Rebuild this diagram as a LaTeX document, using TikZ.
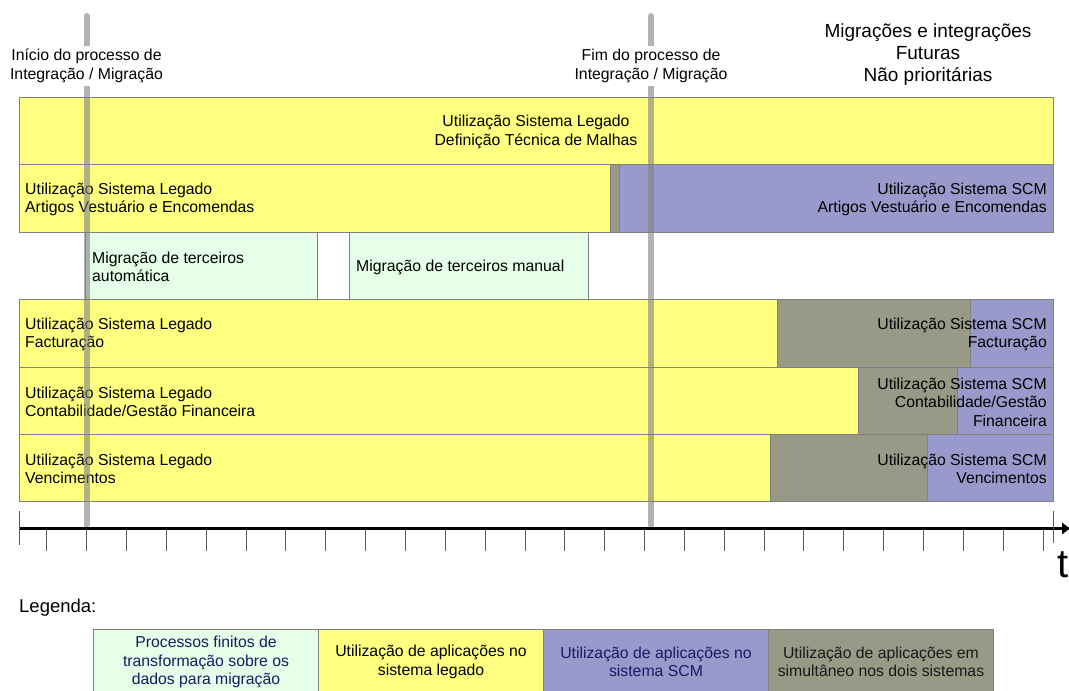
\documentclass[tikz,border=0pt]{standalone}
\usepackage{fontspec}
\setmainfont{Liberation Sans}
\usetikzlibrary{arrows.meta}
\definecolor{legacy}{HTML}{FFFF80}
\definecolor{scm}{HTML}{9999CC}
\definecolor{both}{HTML}{999988}
\definecolor{mig}{HTML}{E5FFE8}
\definecolor{bord}{HTML}{808080}
\definecolor{navytxt}{HTML}{1A1A66}
\begin{document}
\begin{tikzpicture}[x=1pt,y=-1pt,
  box/.style={draw=bord,line width=0.8pt},
  txt/.style={inner sep=0pt,font=\fontsize{15.8}{18.6}\selectfont},
  ltxt/.style={txt,anchor=west,align=left},
  rtxt/.style={txt,anchor=east,align=right},
  ctxt/.style={txt,align=center},
  marker/.style={line width=6pt,draw=gray,draw opacity=0.6,line cap=round},
  toplabel/.style={txt,align=center,fill=white,inner xsep=1pt,inner ysep=3pt},
  tickmark/.style={draw=black!65,line width=1pt},
  axisline/.style={line width=3pt,-{Latex[length=9pt,width=13pt]}},
  legbox/.style={draw=bord,line width=0.8pt,minimum width=225pt,minimum height=66pt,inner sep=0pt,align=center,font=\fontsize{15.8}{18.6}\selectfont},
  ]
\useasboundingbox (0,0) rectangle (1069,691);
\clip (0,0) rectangle (1069,691);

% row 1
\path[box,fill=legacy] (19,97.5) rectangle (1053,164.5);
% row 2
\path[box,fill=legacy] (19,164.5) rectangle (610,232);
\path[box,fill=both] (610,164.5) rectangle (619,232);
\path[box,fill=scm] (619,164.5) rectangle (1053,232);
% row 3
\path[box,fill=mig] (85.5,232) rectangle (317,299.5);
\path[box,fill=mig] (349,232) rectangle (588.5,299.5);
% row 4
\path[box,fill=legacy] (19,299.5) rectangle (777,367);
\path[box,fill=both] (777,299.5) rectangle (970.5,367);
\path[box,fill=scm] (970.5,299.5) rectangle (1053,367);
% row 5
\path[box,fill=legacy] (19,367) rectangle (858,434.5);
\path[box,fill=both] (858,367) rectangle (957.5,434.5);
\path[box,fill=scm] (957.5,367) rectangle (1053,434.5);
% row 6
\path[box,fill=legacy] (19,434.5) rectangle (770,501.5);
\path[box,fill=both] (770,434.5) rectangle (927.5,501.5);
\path[box,fill=scm] (927.5,434.5) rectangle (1053,501.5);

% texts
\node[ctxt] (r1) at (536,132) {Utilização Sistema Legado\\Definição Técnica de Malhas};
\node[ltxt] (r2l) at (25,199.5) {Utilização Sistema Legado\\Artigos Vestuário e Encomendas};
\node[rtxt] (r2r) at (1047,199.5) {Utilização Sistema SCM\\Artigos Vestuário e Encomendas};
\node[ltxt] (r3a) at (92,267) {Migração de terceiros\\automática};
\node[ltxt] (r3b) at (356,267) {Migração de terceiros manual};
\node[ltxt] (r4l) at (25,334.5) {Utilização Sistema Legado\\Facturação};
\node[rtxt] (r4r) at (1047,334.5) {Utilização Sistema SCM\\Facturação};
\node[ltxt] (r5l) at (25,402) {Utilização Sistema Legado\\Contabilidade/Gestão Financeira};
\node[rtxt] (r5r) at (1047,402) {Utilização Sistema SCM\\Contabilidade/Gestão\\Financeira};
\node[ltxt] (r6l) at (25,469) {Utilização Sistema Legado\\Vencimentos};
\node[rtxt] (r6r) at (1047,469) {Utilização Sistema SCM\\Vencimentos};

% milestone markers
\coordinate (m1top) at (86.5,16);
\coordinate (m1bot) at (86.5,525);
\coordinate (m2top) at (651,16);
\coordinate (m2bot) at (651,525);
\draw[marker] (m1top) -- (m1bot);
\draw[marker] (m2top) -- (m2bot);
\node[toplabel] (start) at (86.5,66) {Início do processo de\\Integração / Migração};
\node[toplabel] (end) at (651,66) {Fim do processo de\\Integração / Migração};
\node[txt,align=center,font=\fontsize{19}{22}\selectfont] (future) at (928,55) {Migrações e integrações\\Futuras\\Não prioritárias};

% time axis
\coordinate (ax0) at (19,528.5);
\coordinate (ax1) at (1071,528.5);
\draw[axisline] (ax0) -- (ax1);
\foreach \k in {0,...,25} \draw[tickmark] (46.8+39.85*\k,529) -- ++(0,22);
\draw[tickmark] (19,511) -- (19,545);
\draw[tickmark] (1053,511) -- (1053,543);
\node[anchor=base west,inner sep=0pt,font=\fontsize{40}{40}\selectfont] (tlab) at (1057,577) {t};

% legend
\node[anchor=base west,inner sep=0pt,font=\fontsize{18.5}{22}\selectfont] (legtitle) at (19,612) {Legenda:};
\node[legbox,fill=mig,text=navytxt] (l1) at (206,662) {Processos finitos de\\transformação sobre os\\dados para migração};
\node[legbox,fill=legacy,text=black] (l2) at (431,662) {Utilização de aplicações no\\sistema legado};
\node[legbox,fill=scm,text=navytxt] (l3) at (656,662) {Utilização de aplicações no\\sistema SCM};
\node[legbox,fill=both,text=black!90] (l4) at (881,662) {Utilização de aplicações em\\simultâneo nos dois sistemas};
\end{tikzpicture}
\end{document}
